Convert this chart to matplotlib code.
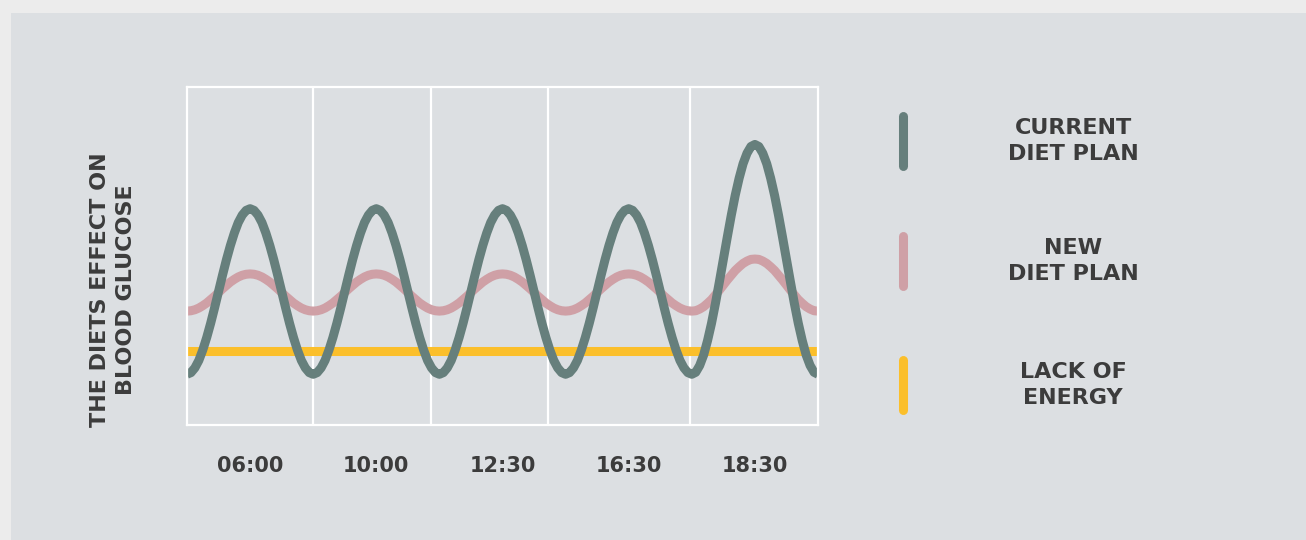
import matplotlib.pyplot as plt
from matplotlib.patches import Rectangle
from matplotlib.lines import Line2D

# x position (0-100 across the plot), sampled every 1/32 of a cycle
x = [i * 0.625 for i in range(161)]

# blood glucose level (0 = bottom of plot, 100 = top)
current_diet = [
    15.0, 15.5, 16.9, 19.1, 22.2, 25.9, 30.1, 34.7, 39.5, 44.3, 48.9, 53.1, 56.8, 59.9, 62.1, 63.5,
    64.0, 63.5, 62.1, 59.9, 56.8, 53.1, 48.9, 44.3, 39.5, 34.7, 30.1, 25.9, 22.2, 19.1, 16.9, 15.5,
    15.0, 15.5, 16.9, 19.1, 22.2, 25.9, 30.1, 34.7, 39.5, 44.3, 48.9, 53.1, 56.8, 59.9, 62.1, 63.5,
    64.0, 63.5, 62.1, 59.9, 56.8, 53.1, 48.9, 44.3, 39.5, 34.7, 30.1, 25.9, 22.2, 19.1, 16.9, 15.5,
    15.0, 15.5, 16.9, 19.1, 22.2, 25.9, 30.1, 34.7, 39.5, 44.3, 48.9, 53.1, 56.8, 59.9, 62.1, 63.5,
    64.0, 63.5, 62.1, 59.9, 56.8, 53.1, 48.9, 44.3, 39.5, 34.7, 30.1, 25.9, 22.2, 19.1, 16.9, 15.5,
    15.0, 15.5, 16.9, 19.1, 22.2, 25.9, 30.1, 34.7, 39.5, 44.3, 48.9, 53.1, 56.8, 59.9, 62.1, 63.5,
    64.0, 63.5, 62.1, 59.9, 56.8, 53.1, 48.9, 44.3, 39.5, 34.7, 30.1, 25.9, 22.2, 19.1, 16.9, 15.5,
    15.0, 15.6, 17.6, 20.7, 25.0, 30.1, 36.0, 42.4, 49.0, 55.6, 62.0, 67.9, 73.0, 77.3, 80.4, 82.4,
    83.0, 82.4, 80.4, 77.3, 73.0, 67.9, 62.0, 55.6, 49.0, 42.4, 36.0, 30.1, 25.0, 20.7, 17.6, 15.6,
    15.0,
]
new_diet = [
    33.7, 33.8, 34.1, 34.6, 35.3, 36.1, 37.1, 38.1, 39.2, 40.3, 41.3, 42.3, 43.1, 43.8, 44.3, 44.6,
    44.7, 44.6, 44.3, 43.8, 43.1, 42.3, 41.3, 40.3, 39.2, 38.1, 37.1, 36.1, 35.3, 34.6, 34.1, 33.8,
    33.7, 33.8, 34.1, 34.6, 35.3, 36.1, 37.1, 38.1, 39.2, 40.3, 41.3, 42.3, 43.1, 43.8, 44.3, 44.6,
    44.7, 44.6, 44.3, 43.8, 43.1, 42.3, 41.3, 40.3, 39.2, 38.1, 37.1, 36.1, 35.3, 34.6, 34.1, 33.8,
    33.7, 33.8, 34.1, 34.6, 35.3, 36.1, 37.1, 38.1, 39.2, 40.3, 41.3, 42.3, 43.1, 43.8, 44.3, 44.6,
    44.7, 44.6, 44.3, 43.8, 43.1, 42.3, 41.3, 40.3, 39.2, 38.1, 37.1, 36.1, 35.3, 34.6, 34.1, 33.8,
    33.7, 33.8, 34.1, 34.6, 35.3, 36.1, 37.1, 38.1, 39.2, 40.3, 41.3, 42.3, 43.1, 43.8, 44.3, 44.6,
    44.7, 44.6, 44.3, 43.8, 43.1, 42.3, 41.3, 40.3, 39.2, 38.1, 37.1, 36.1, 35.3, 34.6, 34.1, 33.8,
    33.7, 33.8, 34.3, 35.0, 36.0, 37.1, 38.5, 39.9, 41.4, 42.9, 44.3, 45.7, 46.8, 47.8, 48.5, 49.0,
    49.1, 49.0, 48.5, 47.8, 46.8, 45.7, 44.3, 42.9, 41.4, 39.9, 38.5, 37.1, 36.0, 35.0, 34.3, 33.8,
    33.7,
]
lack_x = [0, 100]
lack_of_energy = [21.9, 21.9]

tick_pos = [10, 30, 50, 70, 90]
tick_labels = ["06:00", "10:00", "12:30", "16:30", "18:30"]
grid_pos = [20, 38.7, 57.2, 79.7]

legend_labels = ["CURRENT\nDIET PLAN", "NEW\nDIET PLAN", "LACK OF\nENERGY"]
colors = ["#667f7c", "#cfa0a6", "#fbbf2b"]
ylabel = "THE DIETS EFFECT ON\nBLOOD GLUCOSE"

text_color = "#3c3c3c"
panel_color = "#dcdfe2"

plt.rcParams['font.family'] = ['DejaVu Sans']

fig = plt.figure(figsize=(13.06, 5.40), dpi=100)
fig.patch.set_facecolor("#ececec")

# grey panel on top of the light outer border
W, H = 1306, 540
fig.patches.append(Rectangle((11 / W, 0), 1 - 11 / W, 1 - 13 / H,
                             transform=fig.transFigure, facecolor=panel_color,
                             edgecolor="none", zorder=-1))

ax = fig.add_axes([187 / W, 1 - 425 / H, 631 / W, 338 / H])
ax.set_zorder(2)
ax.set_facecolor(panel_color)
ax.set_xlim(0, 100)
ax.set_ylim(0, 100)

for g in grid_pos:
    ax.axvline(g, color="white", lw=1.6, zorder=1)

ax.plot(lack_x, lack_of_energy, color=colors[2], lw=6.5, solid_capstyle="round", zorder=2)
ax.plot(x, new_diet, color=colors[1], lw=6.5, solid_capstyle="butt",
        solid_joinstyle="round", zorder=3)
ax.plot(x, current_diet, color=colors[0], lw=6.5, solid_capstyle="butt",
        solid_joinstyle="round", zorder=4)

for s in ax.spines.values():
    s.set_color("white")
    s.set_linewidth(1.6)
    s.set_zorder(5)

ax.set_xticks(tick_pos)
ax.set_xticklabels(tick_labels, fontsize=15, fontweight="bold", color=text_color)
ax.tick_params(axis="x", length=0, pad=22)
ax.set_yticks([])

fig.text(113 / W, 1 - 290 / H, ylabel, rotation=90, ha="center", va="center",
         fontsize=16, fontweight="bold", color=text_color, linespacing=1.35, zorder=3)

# legend: short vertical strokes with centred labels
leg_y = [141, 261, 385]
for lab, c, yc in zip(legend_labels, colors, leg_y):
    fig.lines.append(Line2D([903 / W, 903 / W], [1 - (yc - 25) / H, 1 - (yc + 25) / H],
                            transform=fig.transFigure, color=c, lw=6.5,
                            solid_capstyle="round", zorder=3))
    fig.text(1073 / W, 1 - yc / H, lab, ha="center", va="center", fontsize=16,
             fontweight="bold", color=text_color, linespacing=1.35, zorder=3)

fig.savefig("out.png", dpi=100, facecolor=fig.get_facecolor())
